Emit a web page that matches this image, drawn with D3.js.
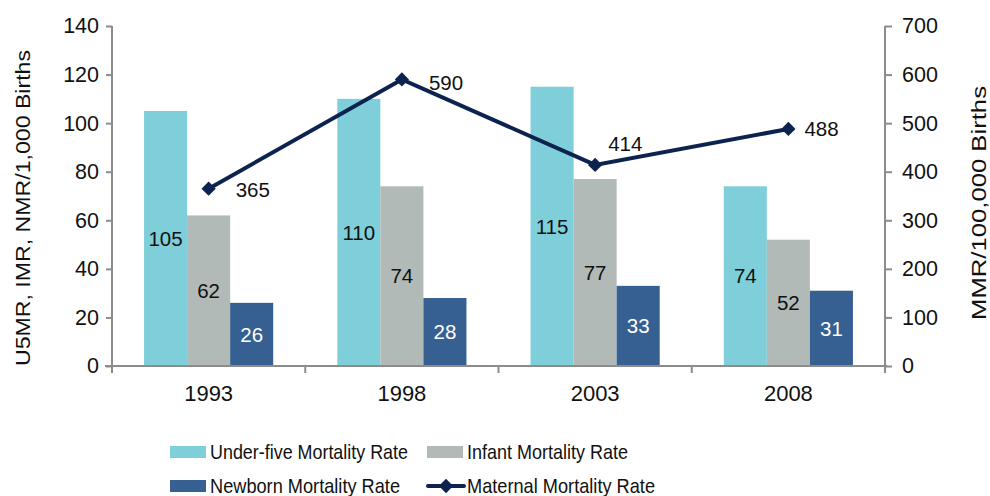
<!DOCTYPE html>
<html><head><meta charset="utf-8">
<script src="https://cdn.jsdelivr.net/npm/d3@7"></script>
<style>body{margin:0;background:#fff}svg{display:block}text{font-family:"Liberation Sans",Arial,sans-serif;fill:#111}</style>
</head><body><svg id="c" width="990" height="496"></svg>
<script>
const years = ["1993","1998","2003","2008"];
const u5mr = [105,110,115,74];
const imr = [62,74,77,52];
const nmr = [26,28,33,31];
const mmr = [365,590,414,488];
const leftTicks = [0,20,40,60,80,100,120,140];
const rightTicks = [0,100,200,300,400,500,600,700];
const seriesNames = ["Under-five Mortality Rate","Infant Mortality Rate","Newborn Mortality Rate","Maternal Mortality Rate"];
const colors = ["#7FCFDA","#B2BAB7","#366092","#0C2350"];

const svg = d3.select("#c");
const L=112, R=885, T=26, B=366;
const x = d3.scaleBand().domain(years).range([L,R]).paddingInner(0).paddingOuter(0);
const yL = d3.scaleLinear().domain([0,140]).range([B,T]);
const yR = d3.scaleLinear().domain([0,700]).range([B,T]);
const barSeries = [u5mr,imr,nmr];
const bw = x.bandwidth()*43/193;
const groupW = bw*3;

// bars
barSeries.forEach((s,si)=>{
  svg.append("g").selectAll("rect").data(s).join("rect")
    .attr("x",(d,i)=>x(years[i])+(x.bandwidth()-groupW)/2+si*bw)
    .attr("y",d=>yL(d)).attr("width",bw).attr("height",d=>B-yL(d))
    .attr("fill",colors[si]);
  svg.append("g").selectAll("text").data(s).join("text")
    .attr("x",(d,i)=>x(years[i])+(x.bandwidth()-groupW)/2+si*bw+bw/2)
    .attr("y",d=>(yL(d)+B)/2).attr("dy","0.35em").attr("text-anchor","middle")
    .attr("font-size",20.5).style("fill",si===2?"#fff":"#111").text(d=>d);
});

// axes
const gray="#8c8c8c";
const axL = svg.append("g").attr("transform",`translate(${L},0)`).call(d3.axisLeft(yL).tickValues(leftTicks).tickSize(6).tickPadding(7));
const axR = svg.append("g").attr("transform",`translate(${R},0)`).call(d3.axisRight(yR).tickValues(rightTicks).tickSize(7).tickPadding(10));
const axX = svg.append("g").attr("transform",`translate(0,${B})`).call(d3.axisBottom(x).tickSize(0).tickPadding(19));
[axL,axR,axX].forEach(a=>{
  a.select(".domain").attr("stroke",gray).attr("stroke-width",2);
  a.selectAll(".tick line").attr("stroke",gray).attr("stroke-width",2);
  a.selectAll("text").attr("font-size",21.5).style("fill","#111").attr("font-family","Liberation Sans, Arial, sans-serif");
});
axX.selectAll("text").attr("font-size",22);
axL.select(".domain").attr("d",`M0,${T}V${B}`);
axR.select(".domain").attr("d",`M0,${T}V${B}`);
axX.select(".domain").attr("d",`M${L-7},0H${R+2}`);
// category boundary ticks
const bounds = years.map(y=>x(y)).concat([x(years[3])+x.bandwidth()]);
svg.append("g").selectAll("line").data(bounds).join("line")
  .attr("x1",d=>d).attr("x2",d=>d).attr("y1",B).attr("y2",B+7)
  .attr("stroke",gray).attr("stroke-width",2);

// axis titles
svg.append("text").attr("transform",`translate(30,208) rotate(-90)`).attr("text-anchor","middle")
  .attr("font-size",21).attr("textLength",316).attr("lengthAdjust","spacingAndGlyphs").text("U5MR, IMR, NMR/1,000 Births");
svg.append("text").attr("transform",`translate(986,203) rotate(-90)`).attr("text-anchor","middle")
  .attr("font-size",21).attr("textLength",234).attr("lengthAdjust","spacingAndGlyphs").text("MMR/100,000 Births");

// line
const cx = (d,i)=>x(years[i])+x.bandwidth()/2;
svg.append("path").datum(mmr)
  .attr("d",d3.line().x(cx).y(d=>yR(d)))
  .attr("fill","none").attr("stroke",colors[3]).attr("stroke-width",4);
const diamond = d3.symbol().type(d3.symbolDiamond2).size(130);
svg.append("g").selectAll("path").data(mmr).join("path")
  .attr("transform",(d,i)=>`translate(${cx(d,i)},${yR(d)})`)
  .attr("d",diamond).attr("fill",colors[3]);
// label offsets (style, not data)
const lblDx = [27,27,13,16], lblDy = [1,3,-21,0];
svg.append("g").selectAll("text").data(mmr).join("text")
  .attr("x",(d,i)=>cx(d,i)+lblDx[i]).attr("y",(d,i)=>yR(d)+lblDy[i]).attr("dy","0.35em")
  .attr("font-size",20.5).text(d=>d);

// legend
const leg = [{x:170,y:452},{x:427,y:452},{x:170,y:486},{x:427,y:486}];
const legW = [198,161,190,188];
seriesNames.forEach((n,i)=>{
  const p=leg[i];
  if(i<3){
    svg.append("rect").attr("x",p.x).attr("y",p.y-6).attr("width",36).attr("height",12).attr("fill",colors[i]);
  } else {
    svg.append("line").attr("x1",p.x+1).attr("x2",p.x+37).attr("y1",p.y).attr("y2",p.y)
      .attr("stroke",colors[3]).attr("stroke-width",4).attr("stroke-linecap","round");
    svg.append("path").attr("transform",`translate(${p.x+19},${p.y})`).attr("d",diamond).attr("fill",colors[3]);
  }
  svg.append("text").attr("x",p.x+40).attr("y",p.y).attr("dy","0.35em").attr("font-size",21)
    .attr("textLength",legW[i]).attr("lengthAdjust","spacingAndGlyphs").text(n);
});
</script></body></html>
